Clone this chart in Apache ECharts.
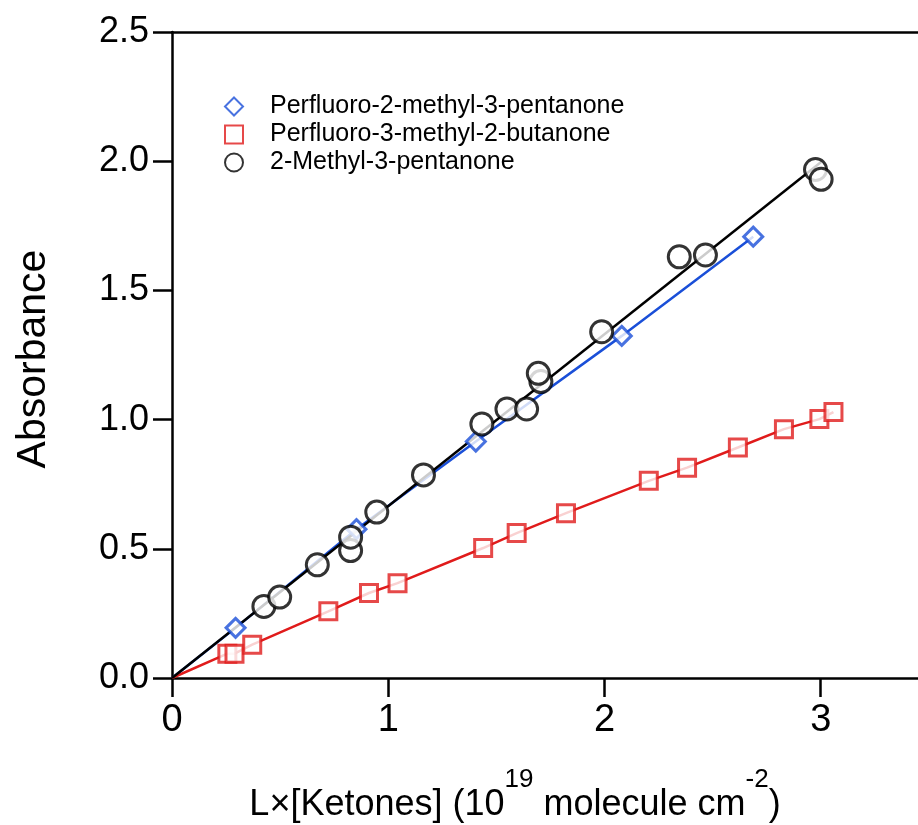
<!DOCTYPE html>
<html>
<head>
<meta charset="utf-8">
<script src="https://cdn.jsdelivr.net/npm/echarts@6/dist/echarts.min.js"></script>
<style>
html,body{margin:0;padding:0;background:#fff;}
#chart{width:918px;height:825px;}
</style>
</head>
<body>
<div id="chart"></div>
<script>
// ---- data ----
const seriesNames = ['Perfluoro-2-methyl-3-pentanone', 'Perfluoro-3-methyl-2-butanone', '2-Methyl-3-pentanone'];

const blueX = [0.294, 0.853, 1.405, 2.080, 2.688];
const blueY = [0.194, 0.576, 0.915, 1.324, 1.708];

const redX = [0.256, 0.289, 0.371, 0.723, 0.911, 1.043, 1.439, 1.594, 1.822, 2.205, 2.382, 2.617, 2.830, 2.994, 3.059];
const redY = [0.094, 0.094, 0.129, 0.258, 0.329, 0.367, 0.503, 0.561, 0.638, 0.763, 0.814, 0.892, 0.963, 1.002, 1.029];

const blackX = [0.425, 0.498, 0.672, 0.826, 0.826, 0.947, 1.163, 1.433, 1.549, 1.640, 1.706, 1.694, 1.987, 2.346, 2.467, 2.976, 3.002];
const blackY = [0.277, 0.313, 0.438, 0.493, 0.545, 0.642, 0.786, 0.983, 1.041, 1.041, 1.147, 1.179, 1.340, 1.630, 1.637, 1.968, 1.930];

const origin = [0, 0];
const xTickValues = [0, 1, 2, 3];
const xAxisMax = 3.45;
const yTickValues = [0.0, 0.5, 1.0, 1.5, 2.0, 2.5];

// ---- helpers ----
const pairs = (xs, ys) => xs.map((x, i) => [x, ys[i]]);
// least-squares line through the origin for the black data
const blackSlope = blackX.reduce((s, x, i) => s + x * blackY[i], 0) / blackX.reduce((s, x) => s + x * x, 0);
const blackXMax = Math.max(...blackX);
const blackFit = [origin, [blackXMax, blackSlope * blackXMax]];

const BLUE = '#1a4fd8';
const RED = '#e01b1b';
const BLACK = '#000000';
const FONT = "'Liberation Sans', Arial, sans-serif";

const chart = echarts.init(document.getElementById('chart'), null, {renderer: 'canvas'});

const option = {
  backgroundColor: '#ffffff',
  animation: false,
  textStyle: {fontFamily: FONT, color: '#000'},
  grid: {left: 172, top: 32, right: 0, bottom: 147, containLabel: false, outerBoundsMode: 'none'},
  legend: {
    data: seriesNames,
    orient: 'vertical',
    left: 219,
    top: 89,
    itemWidth: 18,
    itemHeight: 18,
    itemGap: 3,
    textStyle: {fontFamily: FONT, fontSize: 25, color: '#000', padding: [0, 0, 0, 22]}
  },
  graphic: [{
    type: 'text',
    x: 515,
    y: 823,
    silent: true,
    style: {
      text: '{n|L×[Ketones] (10}{s|19}{n| molecule cm}{s|-2}{n|)}',
      align: 'center',
      verticalAlign: 'bottom',
      fill: '#000',
      rich: {
        n: {fontFamily: FONT, fontSize: 36, lineHeight: 36, verticalAlign: 'bottom', fill: '#000'},
        s: {fontFamily: FONT, fontSize: 26, lineHeight: 26, verticalAlign: 'bottom', padding: [0, 0, 30, 0], fill: '#000'}
      }
    }
  }],
  xAxis: [{
    type: 'value',
    min: xTickValues[0],
    max: xAxisMax,
    interval: 1,
    position: 'bottom',
    splitLine: {show: false},
    axisLine: {show: true, onZero: false, lineStyle: {color: '#000', width: 2.5}},
    axisTick: {show: true, inside: false, length: 19, customValues: xTickValues, lineStyle: {color: '#000', width: 2.5}},
    axisLabel: {
      fontFamily: FONT, fontSize: 38, color: '#000', margin: 24,
      customValues: xTickValues,
      formatter: v => String(v)
    }
  }, {
    type: 'value',
    min: 0, max: xAxisMax, interval: 1,
    position: 'top',
    splitLine: {show: false},
    axisLine: {show: true, onZero: false, lineStyle: {color: '#000', width: 2.5}},
    axisTick: {show: false},
    axisLabel: {show: false}
  }],
  yAxis: {
    type: 'value',
    min: yTickValues[0],
    max: yTickValues[yTickValues.length - 1],
    interval: 0.5,
    splitLine: {show: false},
    axisLine: {show: true, onZero: false, lineStyle: {color: '#000', width: 2.5}},
    axisTick: {show: true, inside: false, length: 19, lineStyle: {color: '#000', width: 2.5}},
    axisLabel: {fontFamily: FONT, fontSize: 36, color: '#000', margin: 23, formatter: v => v.toFixed(1)},
    name: 'Absorbance',
    nameLocation: 'middle',
    nameGap: 118,
    nameRotate: 90,
    nameTextStyle: {fontFamily: FONT, fontSize: 41, color: '#000', padding: [0, 8, 0, 0]}
  },
  series: [
    {
      name: seriesNames[0], type: 'scatter', z: 4,
      symbol: 'diamond', symbolSize: [19, 19],
      itemStyle: {color: '#fff', borderColor: BLUE, borderWidth: 3},
      data: pairs(blueX, blueY)
    },
    {
      name: seriesNames[1], type: 'scatter', z: 4,
      symbol: 'rect', symbolSize: [17, 17],
      itemStyle: {color: '#fff', borderColor: RED, borderWidth: 3},
      data: pairs(redX, redY)
    },
    {
      name: seriesNames[2], type: 'scatter', z: 5,
      symbol: 'circle', symbolSize: 22,
      itemStyle: {color: '#fff', borderColor: BLACK, borderWidth: 3},
      data: pairs(blackX, blackY)
    },
    {
      name: 'blueLine', type: 'line', z: 2, showSymbol: false, symbol: 'none',
      lineStyle: {color: BLUE, width: 2.5},
      data: [origin].concat(pairs(blueX, blueY))
    },
    {
      name: 'redLine', type: 'line', z: 2, showSymbol: false, symbol: 'none',
      lineStyle: {color: RED, width: 2.5},
      data: [origin].concat(pairs(redX, redY))
    },
    {
      name: 'blackLine', type: 'line', z: 3, showSymbol: false, symbol: 'none',
      lineStyle: {color: BLACK, width: 2.5},
      data: blackFit
    }
  ]
};

chart.setOption(option);
</script>
</body>
</html>
